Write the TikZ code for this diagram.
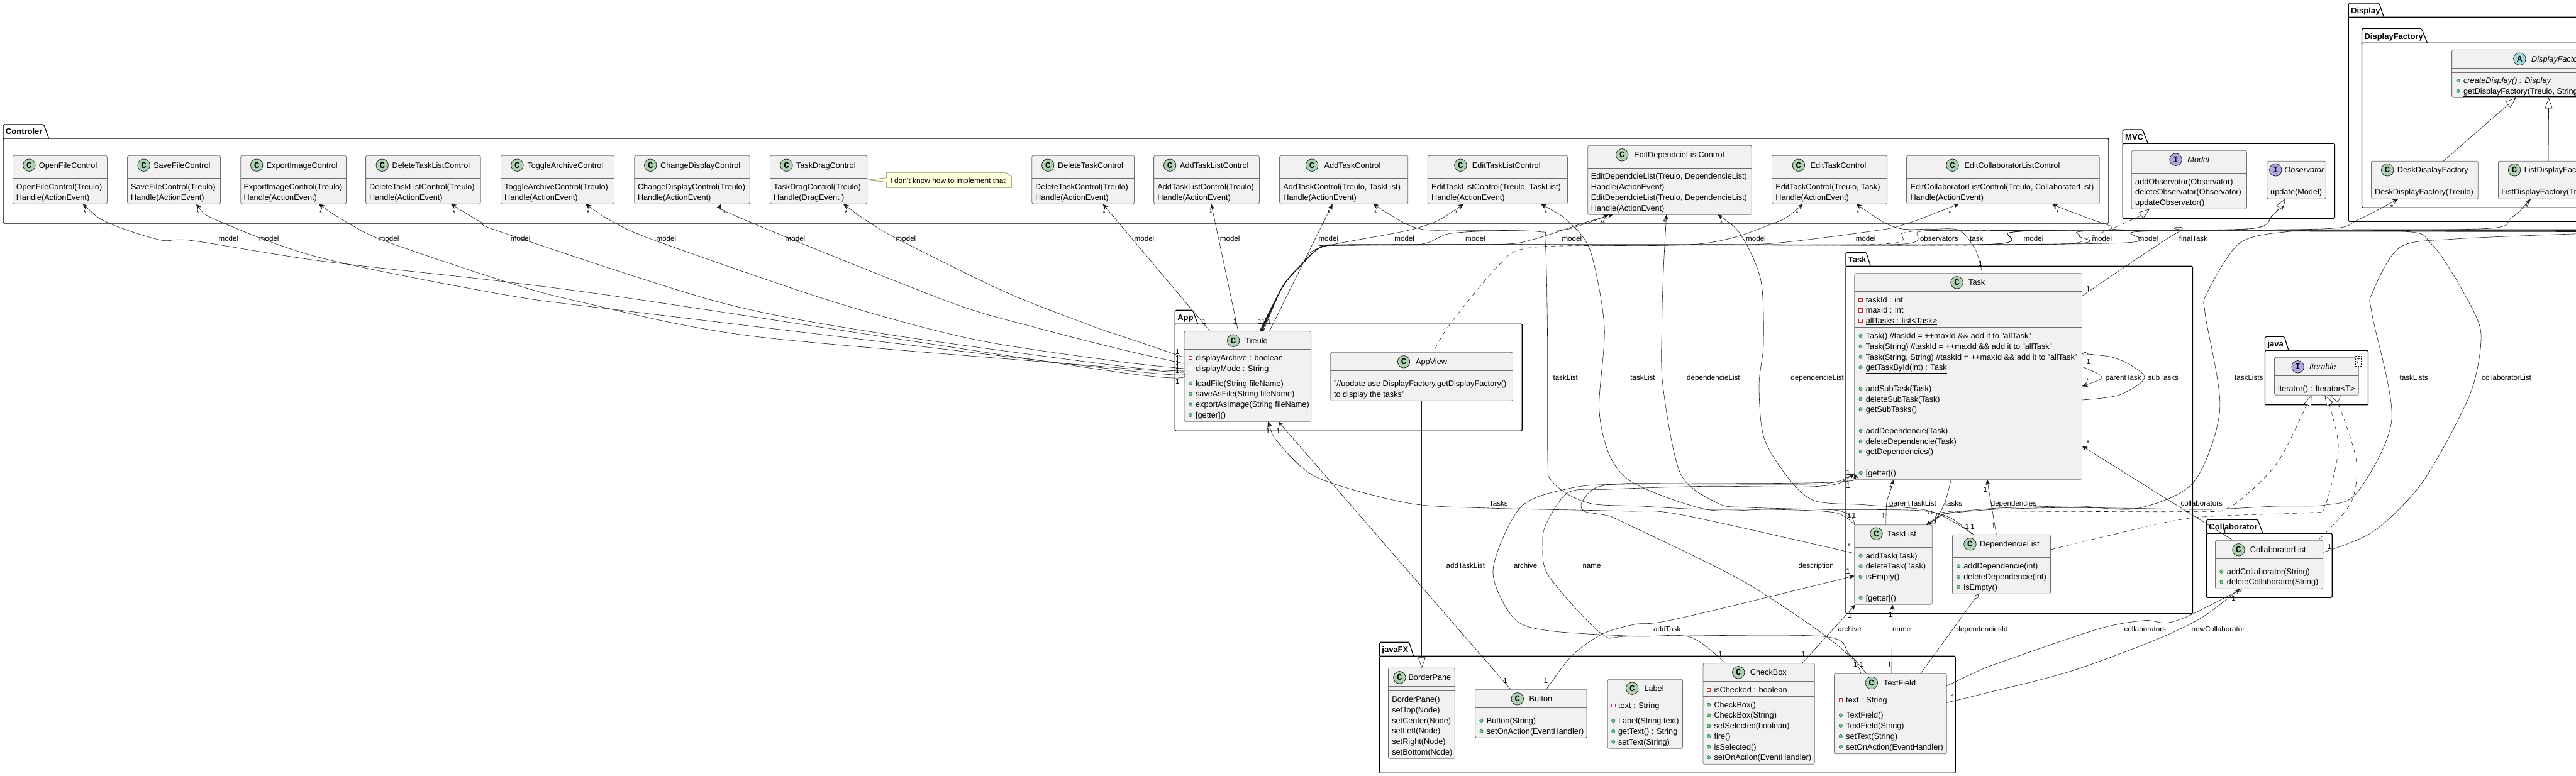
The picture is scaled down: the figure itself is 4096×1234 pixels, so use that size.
\documentclass[tikz,border=0pt]{standalone}
\usepackage{fontspec}
\setmainfont{Liberation Sans}
\newfontfamily\badgefont{Liberation Mono}
\usetikzlibrary{arrows.meta}
\definecolor{clsfill}{HTML}{F1F1F1}
\definecolor{clsline}{HTML}{6E6E6E}
\definecolor{ink}{HTML}{181818}
\definecolor{cbadge}{HTML}{ADD1B2}
\definecolor{ibadge}{HTML}{B4A7E5}
\definecolor{abadge}{HTML}{A9DCDF}
\definecolor{notefill}{HTML}{FEFFDD}
\definecolor{notedraw}{HTML}{8A8A5A}
\definecolor{pubfill}{HTML}{84BE84}
\definecolor{pubdraw}{HTML}{038048}
\definecolor{privdraw}{HTML}{C82930}
\newcounter{nid}
\tikzset{
  x=1pt,y=-1pt,
  classbox/.style={draw=clsline,fill=clsfill,rounded corners=2.5pt,line width=.8pt,inner sep=0pt,outer sep=0pt},
  classrule/.style={draw=clsline,line width=.8pt},
  pkgframe/.style={draw=black,line width=1.2pt,rounded corners=1.5pt,inner sep=0pt,outer sep=0pt},
  pkgtab/.style={draw=black,line width=1.2pt},
  pkgtext/.style={font=\fontsize{13}{15}\selectfont\bfseries,anchor=base west,inner sep=0pt,text=black},
  badge/.style={circle,draw=ink,line width=.7pt,minimum size=19.5pt,inner sep=0pt,font=\badgefont\bfseries\fontsize{14}{14}\selectfont,text=black},
  cbadgestyle/.style={badge,fill=cbadge},
  ibadgestyle/.style={badge,fill=ibadge},
  abadgestyle/.style={badge,fill=abadge},
  classtitle/.style={font=\fontsize{12.7}{15}\selectfont,anchor=base west,inner sep=0pt,text=black},
  memberrow/.style={font=\fontsize{12.7}{15}\selectfont,anchor=base west,inner sep=0pt,text=black},
  edgetext/.style={font=\fontsize{11.6}{13}\selectfont,anchor=base west,inner sep=0pt,text=black},
  multi/.style={font=\fontsize{11.6}{13}\selectfont,anchor=center,inner sep=0pt,text=black},
  notetext/.style={font=\fontsize{11.9}{15}\selectfont,anchor=base west,inner sep=0pt,text=black},
  wireline/.style={draw=ink,line width=.6pt},
  assoc/.style={wireline,{Stealth[length=9pt,width=7.5pt,inset=3pt]}-},
  plainw/.style={wireline},
  diamo/.style={wireline,{Diamond[open,length=10pt,width=6pt]}-},
  dashw/.style={wireline,dash pattern=on 7pt off 6pt,{Triangle[open,fill=white,length=17pt,width=12pt]}-},
  solidtri/.style={wireline,{Triangle[open,fill=white,length=17pt,width=12pt]}-},
}
\newcommand\nextid{\stepcounter{nid}}
\newcommand\umlbox[7]{% name x0 y0 x1 y1 h1 h2
  \pgfmathsetmacro\bw{#4-#2}\pgfmathsetmacro\bh{#5-#3}
  \node[classbox,minimum width=\bw pt,minimum height=\bh pt] (#1) at ({(#2+#4)/2},{(#3+#5)/2}) {};
  \draw[classrule] (#1.west |- 0,#6) -- (#1.east |- 0,#6);
  \draw[classrule] (#1.west |- 0,#7) -- (#1.east |- 0,#7);
}
\newcommand\chead[5]{\node[cbadgestyle] (#1-badge) at (#2,#3) {C};\node[classtitle] (#1-title) at (#4,#3+4.6) {#5};}
\newcommand\ihead[5]{\node[ibadgestyle] (#1-badge) at (#2,#3) {I};\node[classtitle] (#1-title) at (#4,#3+4.6) {\itshape #5};}
\newcommand\ahead[5]{\node[abadgestyle] (#1-badge) at (#2,#3) {A};\node[classtitle] (#1-title) at (#4,#3+4.6) {\itshape #5};}
\newcommand\prow[3]{\nextid\node[memberrow] (row\thenid) at (#1,#2+4.4) {#3};}
\newcommand\pubrow[4]{\nextid\draw[draw=pubdraw,fill=pubfill,line width=.6pt] (#1,#3) circle[radius=2.7pt];\node[memberrow] (row\thenid) at (#2,#3+4.4) {#4};}
\newcommand\privrow[4]{\nextid\draw[draw=privdraw,fill=white,line width=.8pt] (#1-2.8,#3-2.8) rectangle (#1+2.8,#3+2.8);\node[memberrow] (row\thenid) at (#2,#3+4.4) {#4};}
\newcommand\pkg[9]{% name label x0 tabtop tabRT tabRB frametop x1 y1
  \pgfmathsetmacro\bw{#8-#3}\pgfmathsetmacro\bh{#9-#7}
  \node[pkgframe,minimum width=\bw pt,minimum height=\bh pt] (#1) at ({(#3+#8)/2},{(#7+#9)/2}) {};
  \draw[pkgtab] (#1.north west) -- (#3,#4+2) -- (#3+2,#4) -- (#5-2,#4) -- (#5,#4+2) -- (#6,#7);
  \node[pkgtext] (#1-label) at (#3+3.8,#7-6.2) {#2};
}
\newcommand\lbl[3]{\nextid\node[edgetext] (lab\thenid) at (#1,#2+4.2) {#3};}
\newcommand\mul[3]{\nextid\node[multi] (mul\thenid) at (#1,#2) {#3};}
\newcommand\wire[2]{\draw[#1] plot[smooth,tension=.5] coordinates {#2};}
\begin{document}
\begin{tikzpicture}
\useasboundingbox (0,0) rectangle (4096,1234);
\fill[white] (0,0) rectangle (4096,1234);
\clip (0,0) rectangle (4096,1234);
% packages
\pkg{PkgControler}{Controler}{5}{198}{70.4}{77.5}{220}{3353}{355}
\pkg{PkgMVC}{MVC}{3375.2}{206}{3407.5}{3415.3}{228.3}{3712.4}{347.3}
\pkg{PkgDisplay}{Display}{3734.2}{5}{3783.6}{3790.4}{27.3}{4300}{352.3}
\pkg{PkgFactory}{DisplayFactory}{3755.5}{45.3}{3851}{3859.6}{68.3}{4290}{330.3}
\pkg{PkgApp}{App}{1868.3}{493.3}{1897.3}{1904.5}{515.3}{2420.3}{685.3}
\pkg{PkgTask}{Task}{2935}{401.3}{2968}{2974.3}{423.3}{3486.6}{975.7}
\pkg{PkgJava}{java}{3601.5}{535.3}{3632.8}{3639}{557.3}{3765.4}{643.7}
\pkg{PkgCollab}{Collaborator}{3508.4}{826.3}{3590.6}{3597.9}{848.3}{3708.2}{950.3}
\pkg{PkgFX}{javaFX}{2193.4}{1021.3}{2241.2}{2247.6}{1043.3}{3109.2}{1229.3}
% controllers
\umlbox{OpenF}{20.4}{247.3}{170.4}{324.3}{276.3}{283.3}
\chead{OpenF}{46.4}{262.7}{61.7}{OpenFileControl}
\prow{25.6}{297}{OpenFileControl(Treulo)}\prow{25.6}{313.7}{Handle(ActionEvent)}
\umlbox{SaveF}{202.6}{247.3}{350.5}{324.3}{276.3}{283.3}
\chead{SaveF}{228.6}{262.7}{243.9}{SaveFileControl}
\prow{208}{297}{SaveFileControl(Treulo)}\prow{208}{313.7}{Handle(ActionEvent)}
\umlbox{ExportI}{382.7}{247.3}{550.5}{324.3}{276.3}{283.3}
\chead{ExportI}{408.2}{262.7}{423.5}{ExportImageControl}
\prow{387.3}{297}{ExportImageControl(Treulo)}\prow{387.3}{313.7}{Handle(ActionEvent)}
\umlbox{DelTL}{581.6}{247.3}{764.3}{324.3}{276.3}{283.3}
\chead{DelTL}{607.7}{262.7}{623.5}{DeleteTaskListControl}
\prow{587}{297}{DeleteTaskListControl(Treulo)}\prow{587}{313.7}{Handle(ActionEvent)}
\umlbox{Toggle}{796.4}{247.3}{976.5}{324.3}{276.3}{283.3}
\chead{Toggle}{822.4}{262.7}{838.3}{ToggleArchiveControl}
\prow{802}{297}{ToggleArchiveControl(Treulo)}\prow{802}{313.7}{Handle(ActionEvent)}
\umlbox{ChangeD}{1008.7}{247.3}{1192.3}{324.3}{276.3}{283.3}
\chead{ChangeD}{1034.2}{262.7}{1050}{ChangeDisplayControl}
\prow{1013.8}{297}{ChangeDisplayControl(Treulo)}\prow{1013.8}{313.7}{Handle(ActionEvent)}
\umlbox{TaskDrag}{1224.5}{247.3}{1378.6}{324.3}{276.3}{283.3}
\chead{TaskDrag}{1250.5}{262.7}{1265.8}{TaskDragControl}
\prow{1230}{297}{TaskDragControl(Treulo)}\prow{1230}{313.7}{Handle(DragEvent )}
\umlbox{DelT}{1640.7}{247.3}{1803.5}{324.3}{276.3}{283.3}
\chead{DelT}{1666.2}{262.7}{1682}{DeleteTaskControl}
\prow{1646}{297}{DeleteTaskControl(Treulo)}\prow{1646}{313.7}{Handle(ActionEvent)}
\umlbox{AddTL}{1834.6}{247.3}{2002.4}{324.3}{276.3}{283.3}
\chead{AddTL}{1860.1}{262.7}{1875.9}{AddTaskListControl}
\prow{1840.2}{297}{AddTaskListControl(Treulo)}\prow{1840.2}{313.7}{Handle(ActionEvent)}
\umlbox{AddT}{2034.6}{247.3}{2238.7}{324.3}{276.3}{283.3}
\chead{AddT}{2086.1}{262.7}{2105.5}{AddTaskControl}
\prow{2040.2}{297}{AddTaskControl(Treulo, TaskList)}\prow{2040.2}{313.7}{Handle(ActionEvent)}
\umlbox{EditTL}{2270.3}{247.3}{2492.5}{324.3}{276.3}{283.3}
\chead{EditTL}{2322.3}{262.7}{2340.7}{EditTaskListControl}
\prow{2276}{297}{EditTaskListControl(Treulo, TaskList)}\prow{2276}{313.7}{Handle(ActionEvent)}
\umlbox{EditDL}{2524.7}{231.3}{2785.3}{341.3}{260.3}{267.3}
\chead{EditDL}{2579.2}{246.3}{2598.1}{EditDependcieListControl}
\prow{2529.7}{280.3}{EditDependcieList(Treulo, DependencieList)}\prow{2529.7}{297}{Handle(ActionEvent)}
\prow{2529.7}{313.7}{EditDependcieList(Treulo, DependencieList)}\prow{2529.7}{330.7}{Handle(ActionEvent)}
\umlbox{EditT}{2817.4}{247.3}{3000.6}{324.3}{276.3}{283.3}
\chead{EditT}{2859.9}{262.7}{2878.3}{EditTaskControl}
\prow{2823.2}{297}{EditTaskControl(Treulo, Task)}\prow{2823.2}{313.7}{Handle(ActionEvent)}
\umlbox{EditCL}{3031.6}{247.3}{3338.3}{324.3}{276.3}{283.3}
\chead{EditCL}{3104.5}{262.7}{3123.4}{EditCollaboratorListControl}
\prow{3037.3}{297}{EditCollaboratorListControl(Treulo, CollaboratorList)}\prow{3037.3}{313.7}{Handle(ActionEvent)}
% note
\draw[draw=notedraw,fill=notefill,line width=.7pt] (TaskDrag.east |- 0,286.3) -- (1409.7,282.7) -- (1409.7,274.3) -- (1599.4,274.3) -- (1608.6,281) -- (1608.6,298.3) -- (1409.7,298.3) -- (1409.7,289.5) -- cycle;
\draw[draw=notedraw,line width=.7pt] (1599.4,274.3) -- (1599.4,281) -- (1608.6,281);
\node[notetext] (NoteT) at (1415.3,291.6) {I don't know how to implement that};
% MVC
\umlbox{Model}{3389.3}{239.3}{3572.4}{332.3}{268.3}{275.3}
\ihead{Model}{3459.5}{253.7}{3478.2}{Model}
\prow{3395}{288.7}{addObservator(Observator)}\prow{3395}{305.3}{deleteObservator(Observator)}\prow{3395}{322}{updateObservator()}
\umlbox{Observator}{3604.7}{256.3}{3698.3}{316.3}{284.3}{292.3}
\ihead{Observator}{3618.2}{270.3}{3632.2}{Observator}
\prow{3610}{305.3}{update(Model)}
% display
\umlbox{DispF}{3898.6}{79.3}{4260}{155.3}{108.3}{115.3}
\ahead{DispF}{4006.3}{93.7}{4025}{DisplayFactory}
\pubrow{3908.5}{3916.9}{128.3}{\itshape createDisplay() : Display}
\pubrow{3908.5}{3916.9}{145}{\underline{getDisplayFactory(Treulo, String)}}
\umlbox{DeskF}{3770.6}{256.3}{3940.3}{316.3}{284.3}{292.3}
\chead{DeskF}{3796.1}{270.3}{3811.7}{DeskDisplayFactory}
\prow{3775.8}{305.3}{DeskDisplayFactory(Treulo)}
\umlbox{ListF}{3972.5}{256.3}{4140}{316.3}{284.3}{292.3}
\chead{ListF}{3998}{270.3}{4013.6}{ListDisplayFactory}
\prow{3977.2}{305.3}{ListDisplayFactory(Treulo)}
% App
\umlbox{Treulo}{1883}{526.7}{2084.6}{670.3}{555.3}{596.7}
\chead{Treulo}{1961.1}{541.7}{1980}{Treulo}
\privrow{1892.8}{1900.9}{569}{displayArchive : boolean}
\privrow{1892.8}{1900.9}{586}{displayMode : String}
\pubrow{1892.8}{1900.9}{609.7}{loadFile(String fileName)}
\pubrow{1892.8}{1900.9}{626.3}{saveAsFile(String fileName)}
\pubrow{1892.8}{1900.9}{643.3}{exportAsImage(String fileName)}
\pubrow{1892.8}{1900.9}{660}{[getter]()}
\umlbox{AppView}{2115.7}{560.3}{2405.5}{637.3}{589.3}{596.3}
\chead{AppView}{2232}{575.3}{2250.9}{AppView}
\prow{2120.8}{610}{"//update use DisplayFactory.getDisplayFactory()}\prow{2120.8}{626.7}{to display the tasks"}
% Task
\umlbox{Task}{2948.8}{434.7}{3310.5}{762.3}{463.3}{520.3}
\chead{Task}{3111.5}{449.3}{3129.9}{Task}
\privrow{2958.5}{2966.6}{476.7}{taskId : int}
\privrow{2958.5}{2966.6}{493.3}{\underline{maxId : int}}
\privrow{2958.5}{2966.6}{510}{\underline{allTasks : list<Task>}}
\pubrow{2958.5}{2966.6}{534}{Task() //taskId = ++maxId \&\& add it to "allTask"}
\pubrow{2958.5}{2966.6}{550.7}{Task(String) //taskId = ++maxId \&\& add it to "allTask"}
\pubrow{2958.5}{2966.6}{567.7}{Task(String, String) //taskId = ++maxId \&\& add it to "allTask"}
\pubrow{2958.5}{2966.6}{584.3}{\underline{getTaskById(int) : Task}}
\pubrow{2958.5}{2966.6}{618}{addSubTask(Task)}
\pubrow{2958.5}{2966.6}{634.7}{deleteSubTask(Task)}
\pubrow{2958.5}{2966.6}{651.3}{getSubTasks()}
\pubrow{2958.5}{2966.6}{685}{addDependencie(Task)}
\pubrow{2958.5}{2966.6}{701.7}{deleteDependencie(Task)}
\pubrow{2958.5}{2966.6}{718.3}{getDependencies()}
\pubrow{2958.5}{2966.6}{752}{[getter]()}
\umlbox{TaskList}{2948.8}{834.7}{3072.2}{961.3}{863.3}{870.3}
\chead{TaskList}{2983.5}{848.7}{3000.8}{TaskList}
\pubrow{2958.5}{2966.6}{883.7}{addTask(Task)}
\pubrow{2958.5}{2966.6}{900.3}{deleteTask(Task)}
\pubrow{2958.5}{2966.6}{917}{isEmpty()}
\pubrow{2958.5}{2966.6}{950.7}{[getter]()}
\umlbox{DepL}{3104.4}{850.3}{3260.5}{944.3}{879.3}{886.3}
\chead{DepL}{3132.4}{865.3}{3147.8}{DependencieList}
\pubrow{3114.1}{3122.2}{900.3}{addDependencie(int)}
\pubrow{3114.1}{3122.2}{917}{deleteDependencie(int)}
\pubrow{3114.1}{3122.2}{933.7}{isEmpty()}
% java
\umlbox{Iterable}{3616.6}{568.3}{3750.3}{628.3}{597.3}{604.3}
\ihead{Iterable}{3653.6}{583.3}{3671.8}{Iterable}
\prow{3621.8}{617.7}{iterator() : Iterator<T>}
\draw[draw=ink,fill=white,line width=.6pt,dash pattern=on 2pt off 2pt] (3745.1,566) rectangle (3754,582.3);
\node[font=\fontsize{10}{12}\selectfont\itshape,inner sep=0pt,text=black] (IterT) at (3749.5,574.2) {T};
% collaborator
\umlbox{CollL}{3522.5}{859.3}{3693.6}{936.3}{888.3}{895.3}
\chead{CollL}{3559.4}{874.3}{3577.6}{CollaboratorList}
\pubrow{3532.3}{3540.7}{908.7}{addCollaborator(String)}
\pubrow{3532.3}{3540.7}{925.3}{deleteCollaborator(String)}
% javaFX
\umlbox{BorderP}{2207.4}{1062.3}{2313.3}{1206.3}{1091.3}{1098.3}
\chead{BorderP}{2225.3}{1077.3}{2239.3}{BorderPane}
\prow{2213.1}{1112}{BorderPane()}\prow{2213.1}{1128.7}{setTop(Node)}\prow{2213.1}{1145.7}{setCenter(Node)}\prow{2213.1}{1162.3}{setLeft(Node)}\prow{2213.1}{1179}{setRight(Node)}\prow{2213.1}{1196}{setBottom(Node)}
\umlbox{Button}{2345.8}{1096.3}{2523.1}{1173.3}{1125.3}{1132.3}
\chead{Button}{2412.8}{1111.3}{2431.3}{Button}
\pubrow{2355.4}{2363.6}{1145.7}{Button(String)}
\pubrow{2355.4}{2363.6}{1162.7}{setOnAction(EventHandler)}
\umlbox{LabelC}{2556.3}{1080.3}{2675.5}{1190.3}{1108.3}{1132.7}
\chead{LabelC}{2595.2}{1094.7}{2614.3}{Label}
\privrow{2565.2}{2572.8}{1122}{text : String}
\pubrow{2565.2}{2572.8}{1146}{Label(String text)}
\pubrow{2565.2}{2572.8}{1163}{getText() : String}
\pubrow{2565.2}{2572.8}{1179.7}{setText(String)}
\umlbox{CheckB}{2708}{1054.7}{2885.3}{1215.3}{1083.3}{1107.3}
\chead{CheckB}{2764.2}{1069.3}{2782.7}{CheckBox}
\privrow{2717}{2725.3}{1096.7}{isChecked : boolean}
\pubrow{2717}{2725.3}{1120.7}{CheckBox()}
\pubrow{2717}{2725.3}{1137.3}{CheckBox(String)}
\pubrow{2717}{2725.3}{1154.3}{setSelected(boolean)}
\pubrow{2717}{2725.3}{1171}{fire()}
\pubrow{2717}{2725.3}{1187.7}{isSelected()}
\pubrow{2717}{2725.3}{1204.3}{setOnAction(EventHandler)}
\umlbox{TextF}{2916.6}{1071.3}{3095.2}{1198.7}{1100}{1124.3}
\chead{TextF}{2975.9}{1086}{2995}{TextField}
\privrow{2926.8}{2935}{1113.3}{text : String}
\pubrow{2926.8}{2935}{1137.3}{TextField()}
\pubrow{2926.8}{2935}{1154}{TextField(String)}
\pubrow{2926.8}{2935}{1171}{setText(String)}
\pubrow{2926.8}{2935}{1187.7}{setOnAction(EventHandler)}
% ---- connectors: controllers to Treulo
\wire{assoc}{(131.6,0 |- OpenF.south)(173.5,355)(255,381.7)(306,382.7)(510,415)(800,447.7)(1040,480)(1780,592)(Treulo.west |- 0,597.7)}
\wire{assoc}{(312,0 |- SaveF.south)(352,353.3)(510,410)(800,468.3)(1000,495)(1780,588)(Treulo.west |- 0,594)}
\wire{assoc}{(506.6,0 |- ExportI.south)(551,353.3)(612,383.3)(800,446.7)(922.4,480)(1200,535)(1780,585)(Treulo.west |- 0,592)}
\wire{assoc}{(716.8,0 |- DelTL.south)(765,353.3)(800,370)(1141.8,480)(1400,530)(1780,582)(Treulo.west |- 0,590)}
\wire{assoc}{(931,0 |- Toggle.south)(976,353.3)(1043,383)(1325.5,480)(1550,540)(1780,575)(Treulo.west |- 0,586)}
\wire{assoc}{(1147,0 |- ChangeD.south)(1192.9,353.3)(1509,480)(1643.8,520)(1780,555)(Treulo.west |- 0,578.3)}
\wire{assoc}{(1340.8,0 |- TaskDrag.south)(1381.6,353.3)(1432.7,383)(1600,465)(1740.7,520)(1780,533.3)(Treulo.west |- 0,568.3)}
\draw[assoc] (1753.5,0 |- DelT.south) -- (1923.9,0 |- Treulo.north);
\draw[assoc] (1925.9,0 |- AddTL.south) -- (1968.8,0 |- Treulo.north);
\draw[assoc] (2118.8,0 |- AddT.south) -- (2018.3,0 |- Treulo.north);
% bundle from Treulo
\wire{assoc}{(2327.5,0 |- EditTL.south)(2253.5,362.7)(2100.4,393.3)(2070,420)(2039,456.7)(2009,0 |- Treulo.north)}
\wire{assoc}{(2564.8,0 |- EditDL.south)(2523,353)(2437,381)(2380,388.6)(2150,389.5)(2100.4,393.3)(2070,420)(2039,456.7)(2003,0 |- Treulo.north)}
\wire{assoc}{(2558,0 |- EditDL.south)(2523,355)(2477,367)(2380,367)(2304,371.7)(2258,388.5)(2150,389)(2100.4,393)(2070,420)(2039,456.7)(2004,0 |- Treulo.north)}
\wire{assoc}{(2866.8,0 |- EditT.south)(2816,356.7)(2695,388.5)(2400,389)(2150,390)(2100.4,393.5)(2070,420)(2039,456)(2005,0 |- Treulo.north)}
\wire{assoc}{(3114.8,0 |- EditCL.south)(3028.7,356.7)(2982.8,366.7)(2822,386.7)(2700,389)(2150,389.5)(2100.4,393.3)(2070,421)(2039,457)(2006,0 |- Treulo.north)}
\wire{assoc}{(3633.8,0 |- Observator.south)(3613,343)(3581.8,363.3)(3400,366)(3126,366.7)(3051.6,368.3)(3023,388.3)(2700,389.5)(2150,390)(2100.4,393.6)(2070,421)(2039,456)(2007,0 |- Treulo.north)}
\wire{plainw}{(4100,367)(3500,366)(3400,366)(3280,366)(3195,370)(3163,388.5)(2700,389.5)(2150,389)(2100.4,393.3)(2070,420)(2039,456.7)(2005,0 |- Treulo.north)}
\wire{assoc}{(3813.4,0 |- DeskF.south)(3748.3,350)(3706.6,363.3)(3500,366)(3280,366)(3195,370)(3163,388.5)(2700,389)(2150,389.4)(2100.4,393.3)(2070,420)(2039,456.7)(2006,0 |- Treulo.north)}
\wire{assoc}{(4024,0 |- ListF.south)(3992.8,346.7)(3956.4,363.3)(3700,366)(3332,367)(3306,375)(3280,388)(2700,389)(2150,389)(2100.4,393.3)(2070,420)(2039,456.7)(2004,0 |- Treulo.north)}
\wire{plainw}{(4100,368.5)(3700,368)(3400,368.3)(3363,386.7)(2700,389.5)(2150,389.5)(2100.4,393.3)(2070,420)(2039,456.7)(2003,0 |- Treulo.north)}
% dashed realizations
\wire{dashw}{(3417.9,0 |- Model.south)(3392,348.3)(3326.8,375)(3250,389)(2700,389.5)(2150,390)(2100.4,393.6)(2070,421)(2039,457)(2008,0 |- Treulo.north)}
\wire{dashw}{(3633.8,0 |- Observator.south)(3613,343)(3581.8,363.3)(3400,365.5)(3060,367)(3040,368)(3023,371.7)(2988.5,388.3)(2575,390)(2426,395)(2380,425)(2304.7,516.7)(2279,0 |- AppView.north)}
\draw[solidtri] (2260.7,0 |- BorderP.north) -- (2260.7,0 |- AppView.south);
\draw[solidtri] (4000.6,0 |- DispF.south) -- (3885,0 |- DeskF.north);
\draw[solidtri] (4052.6,0 |- DispF.south) -- (4052,0 |- ListF.north);
% taskList / dependencieList
\wire{assoc}{(2183.1,0 |- AddT.south)(2253.5,362.7)(2320,366)(2446,368.3)(2457,385)(2460.4,520)(2461,733)(2466,763)(2494,786.7)(2535,801.7)(2611,805)(2713,810)(2917,811)(TaskList.north west)}
\wire{assoc}{(2450,0 |- EditTL.south)(2494.8,353.3)(2529,400)(2551,520)(2542.7,650)(2560.6,726.7)(2600.8,770)(2713,810)(2815,810)(2917,815)(TaskList.north west)}
\wire{assoc}{(2649.8,0 |- EditDL.south)(2645,430)(2642.6,513)(2644,613)(2672,753)(2731,800)(2774,806.7)(2900,810)(3049.8,811.7)(3100.8,823.3)(3136.6,0 |- DepL.north)}
\wire{assoc}{(2731.3,0 |- EditDL.south)(2770,376.7)(2800,446.7)(2804,546.7)(2797,613)(2805,696.7)(2845.7,763)(2886.5,796.7)(2968,803)(3070,813)(3139,0 |- DepL.north)}
\wire{assoc}{(2951.2,0 |- EditT.south)(3014.3,361.7)(3069,364.3)(3114.8,366)(3140,395)(3149.3,423.3)(3152,0 |- Task.north)}
\wire{assoc}{(3262.9,0 |- EditCL.south)(3280,331.7)(3352.8,358.3)(3394.5,365.7)(3800,366.7)(3868,390)(3935.6,500)(3944.4,550)(3925,633)(3852,766.7)(3774,845)(CollL.east |- 0,878.3)}
% Treulo bottom
\wire{assoc}{(2016.2,0 |- Treulo.south)(2035,706.7)(2096,760)(2239,800)(2366.7,808)(2580,812.7)(2672,818.3)(TaskList.west |- 0,880)}
\draw[assoc] (2032.6,0 |- Treulo.south) -- (2402,0 |- Button.north);
% into Task getter
\wire{assoc}{(Task.west |- 0,752.7)(2917,766.7)(2866,770)(2580,770)(2494,777)(2417.8,806.7)(2374,906.7)(2407,983)(2463,1003)(2600,1011.7)(2687.6,1013)(2743,0 |- CheckB.north)}
\wire{assoc}{(Task.west |- 0,752.7)(2891.6,773.3)(2713,773.3)(2560,778)(2494,783)(2458.6,833)(2453,866.7)(2463,916.7)(2547.4,1008.3)(2600,1011.7)(2896,1011.7)(2940,1040)(2967.6,0 |- TextF.north)}
\wire{assoc}{(Task.west |- 0,752.7)(2917,766.7)(2700,769)(2580,769)(2535,776.7)(2514.7,800)(2519.8,813.3)(2553,819.3)(2580,830)(2764,920)(2891.6,1003)(2947.8,1050)(2958.7,0 |- TextF.north)}
\draw[assoc] (2950.3,0 |- TaskList.south) -- (2865.5,0 |- CheckB.north);
\draw[assoc] (3009,0 |- TaskList.south) -- (3007.8,0 |- TextF.north);
\wire{assoc}{(TaskList.west |- 0,915.7)(2662,985)(2600,992.7)(2547.4,1008.3)(2499,1043)(2458.7,0 |- Button.north)}
\draw[diamo] (3146,0 |- DepL.south) -- (3053.7,0 |- TextF.north);
\wire{assoc}{(3011.5,0 |- Task.south)(3006,780)(2999.8,800)(2998.8,0 |- TaskList.north)}
\wire{diamo}{(3072.5,0 |- TaskList.north)(3092,800)(3102.4,0 |- Task.south)}
\draw[assoc] (3159.5,0 |- Task.south) -- (3174.3,0 |- DepL.north);
% taskLists
\wire{assoc}{(3062.6,0 |- TaskList.north)(3085,820)(3100.8,815)(3172,808.3)(3274,805)(3311,805)(3399.7,808.3)(3488,766.7)(3529.7,650)(3506.4,500)(3509,466.7)(3561,386.7)(3639,368.3)(3748,365)(4100,365)}
\wire{plainw}{(3064,0 |- TaskList.north)(3087,820)(3100.8,816)(3172,810)(3280,807.3)(3384,808.3)(3514,810)(3618,805)(3696,803.3)(3748,783.3)(3803,666.7)(3771.7,500)(3771.7,466.7)(3816,393.3)(3904,380)(4100,371.7)}
\wire{dashw}{(3675.4,0 |- Iterable.south)(3665,650)(3618,740)(3545.4,806.7)(3488,813.3)(3280,813.3)(3100.8,813.3)(3075,826)(3066,0 |- TaskList.north)}
\wire{dashw}{(3696.2,0 |- Iterable.south)(3706.6,653.3)(3718,716.7)(3696.2,806.7)(3675.4,815)(3488,823.3)(3360,850)(DepL.east |- 0,874)}
\wire{dashw}{(3704,0 |- Iterable.south)(3719.6,646.7)(3746.7,733.3)(3737.9,800)(3685.8,0 |- CollL.north)}
\draw[assoc] (Task.east |- 0,709.3) -- (3550.6,0 |- CollL.north);
\wire{plainw}{(Task.east |- 0,470.7)(3464.7,368.3)(3500,366)(4100,366.5)}
\wire{assoc}{(Task.east |- 0,614.3)(3341.4,599)(Task.east |- 0,583.3)}
\wire{diamo}{(Task.east |- 0,562)(3370,572)(3410,600)(3370,628)(Task.east |- 0,636)}
\wire{diamo}{(3565,0 |- CollL.south)(3457,988)(3410,986.7)(3337,1000)(3190,1050)(3150,1065)(TextF.east |- 0,1090.7)}
\wire{assoc}{(3562,0 |- CollL.south)(3467,1000)(3300,1065)(3150,1104)(TextF.east |- 0,1117.3)}
% labels
\lbl{347.4}{379.7}{model}\lbl{411.7}{379.7}{model}\lbl{602.6}{379.7}{model}\lbl{811.7}{379.7}{model}\lbl{1043.4}{379.7}{model}\lbl{1248.5}{379.7}{model}\lbl{1424.5}{379.7}{model}
\lbl{1803.5}{379.7}{model}\lbl{1939.7}{379.7}{model}\lbl{2096.3}{379.7}{model}\lbl{2217.2}{379.7}{model}\lbl{2330}{379.7}{model}\lbl{2483.3}{379.7}{model}\lbl{2776}{379.7}{model}\lbl{2950.6}{379.7}{model}
\lbl{3052.8}{379.7}{observators}\lbl{3132}{379.7}{task}\lbl{3217.5}{379.7}{model}\lbl{3326.3}{379.7}{model}\lbl{3399.7}{379.7}{model}\lbl{3464.7}{379.7}{finalTask}
\lbl{2469.3}{600}{taskList}\lbl{2592.1}{600}{taskList}\lbl{2682}{600}{dependencieList}\lbl{2847.2}{600}{dependencieList}
\lbl{3347.6}{600}{parentTask}\lbl{3415.3}{600}{subTasks}\lbl{3553}{600}{taskLists}\lbl{3815.4}{600}{taskLists}\lbl{3946}{600}{collaboratorList}
\lbl{2367.8}{800}{Tasks}\lbl{3003.9}{800}{parentTaskList}\lbl{3092.7}{800}{tasks}\lbl{3165.6}{800}{dependencies}\lbl{3467.3}{800}{collaborators}
\lbl{2299.5}{899}{addTaskList}\lbl{2406.6}{899}{archive}\lbl{2516.3}{899}{name}\lbl{2859.5}{899}{description}
\lbl{2628.9}{1000}{addTask}\lbl{2922.2}{1000}{archive}\lbl{3009}{1000}{name}\lbl{3110.5}{1000}{dependenciesId}\lbl{3377.3}{1000}{collaborators}\lbl{3484.5}{1000}{newCollaborator}
% multiplicities
\mul{134.7}{339}{*}\mul{314.3}{339}{*}\mul{510.2}{339}{*}\mul{721.9}{339}{*}\mul{935.2}{339}{*}\mul{1152}{339}{*}\mul{1345.4}{339}{*}
\mul{1755.5}{339}{*}\mul{1925.4}{339}{*}\mul{2112.7}{339}{*}\mul{2187.1}{339}{*}\mul{2316.2}{339}{*}\mul{2458}{339}{*}
\mul{2546}{355}{*}\mul{2550}{355}{*}\mul{2647}{354}{*}\mul{2737}{355}{*}\mul{2857.6}{339}{*}\mul{2954}{339}{*}\mul{3100.4}{339}{*}\mul{3271.5}{339}{*}
\mul{3629.6}{331.7}{*}\mul{3803}{329.3}{*}\mul{4017.8}{329.3}{*}
\mul{1872.3}{559.3}{1}\mul{1872.3}{570}{1}\mul{1872.3}{578}{1}\mul{1872.3}{583}{1}\mul{1872.3}{590}{1}\mul{1872.3}{606.7}{1}
\mul{1914.7}{512}{1}\mul{1964.2}{512}{1}\mul{2003.5}{512}{1}\mul{2008.6}{512}{1}\mul{2017.8}{512}{1}
\mul{2016.2}{686}{1}\mul{2032.6}{686}{1}
\mul{3149.3}{420}{1}\mul{3320.2}{460}{1}\mul{3320.6}{576}{1}\mul{3319}{606}{*}\mul{3320.2}{705}{*}
\mul{2938.6}{751.7}{1}\mul{2938.6}{768.3}{1}\mul{2938.6}{773}{1}
\mul{2940}{820}{1}\mul{2947.7}{820}{1}\mul{2994.7}{820.7}{1}\mul{3006.5}{776.7}{*}\mul{3066}{818}{*}\mul{3071}{818}{*}
\mul{2940}{868}{*}\mul{2938.6}{908.3}{1}\mul{2941.6}{978}{1}\mul{3006.4}{977}{1}
\mul{3127.9}{837.3}{1}\mul{3136.6}{837.3}{1}\mul{3169.7}{836.7}{1}\mul{3157}{778.3}{1}
\mul{2393.3}{1082.7}{1}\mul{2458}{1082.7}{1}\mul{2735.5}{1040.7}{1}\mul{2867.5}{1040.7}{1}
\mul{2950.4}{1056.7}{1}\mul{2960}{1056.7}{1}\mul{3004.6}{1057.3}{1}\mul{3105.3}{1108.3}{1}
\mul{3537.5}{845}{1}\mul{3704}{869.3}{1}\mul{3551.6}{951.7}{1}
\end{tikzpicture}
\end{document}
